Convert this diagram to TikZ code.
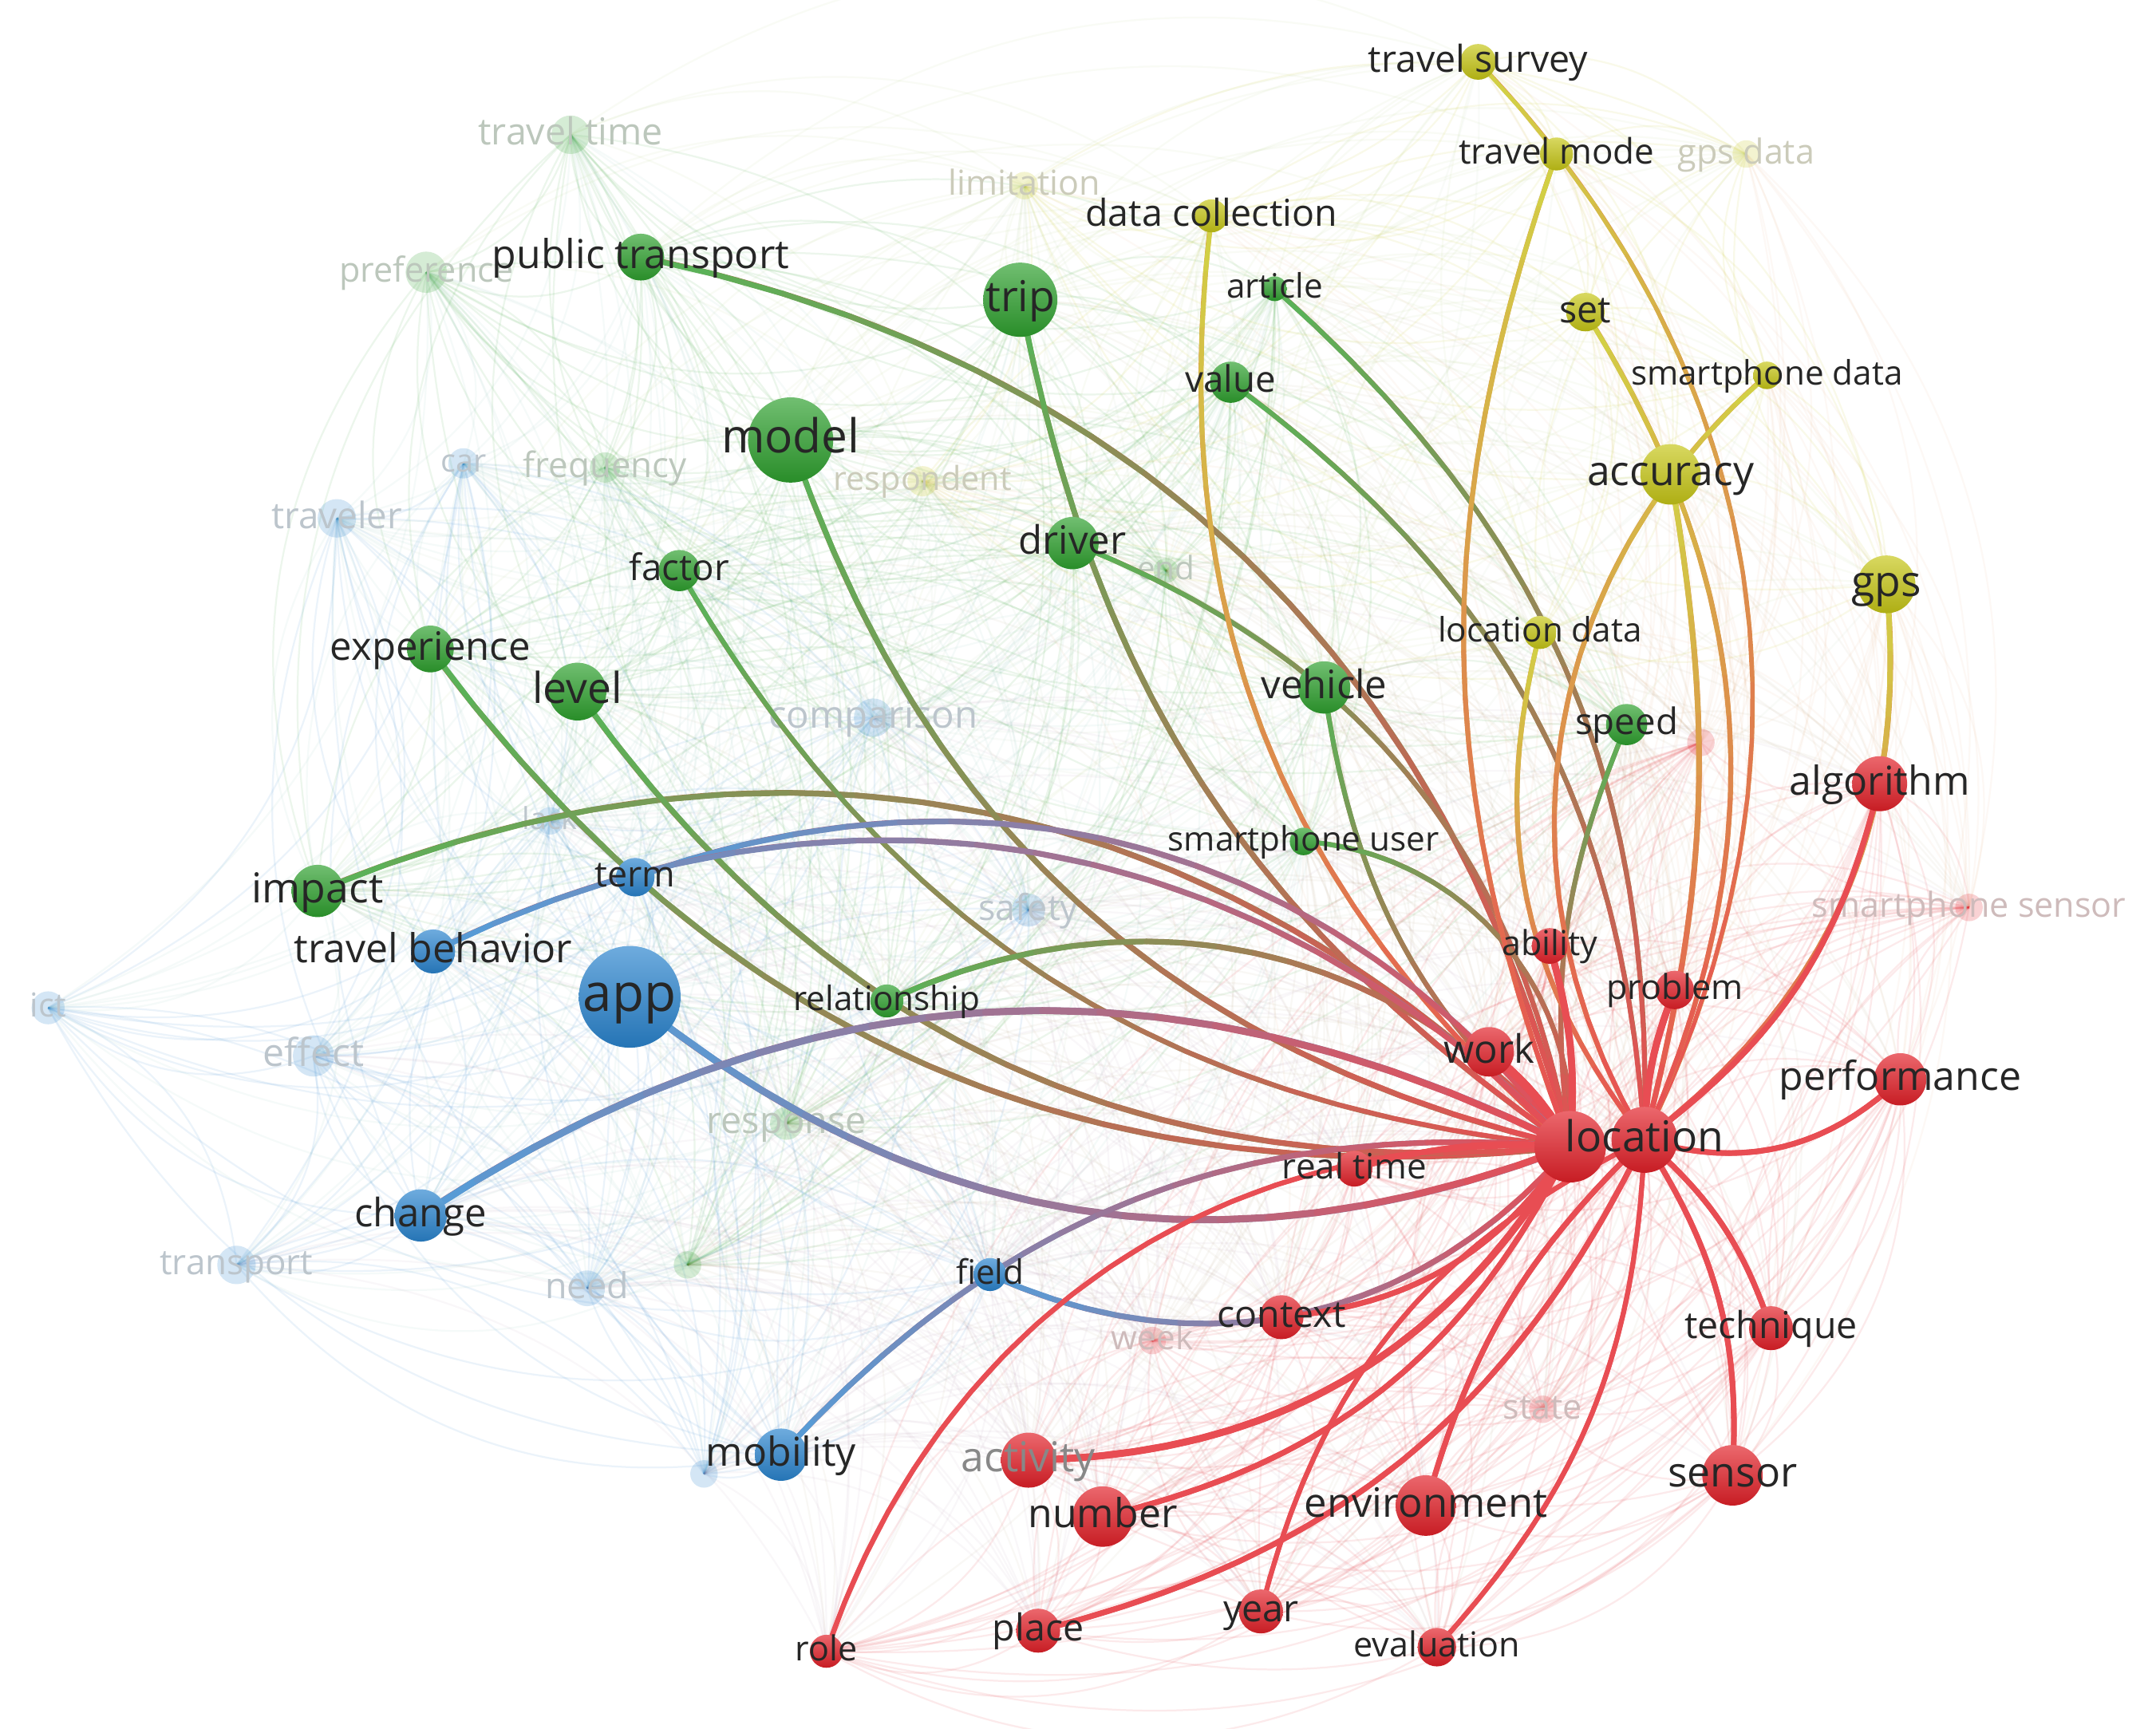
\documentclass[tikz,border=0pt]{standalone}
\usepackage{fontspec}
\setmainfont{Open Sans}
\definecolor{kred}{RGB}{226,32,40}
\definecolor{kgreen}{RGB}{46,160,46}
\definecolor{kblue}{RGB}{42,132,206}
\definecolor{kyellow}{RGB}{198,198,22}
\definecolor{labtxt}{RGB}{38,38,38}
\pgfdeclarelayer{bgl}
\pgfdeclarelayer{fadel}
\pgfdeclarelayer{hll}
\pgfdeclarelayer{labl}
\pgfsetlayers{bgl,fadel,hll,main,labl}
\tikzset{
  kw/.style 2 args={circle, inner sep=0pt, minimum size={2*#2pt}, top color=#1!68!white, bottom color=#1!88!black, draw=none},
  kwf/.style 2 args={circle, inner sep=0pt, minimum size={2*#2pt}, fill=#1, fill opacity=0.2, draw=none},
  lb/.style={text=labtxt, inner sep=0pt, anchor=base, yshift={-0.28*#1pt}, font=\fontsize{#1}{#1}\selectfont},
  lbf/.style 2 args={text=#1!35!black!28!white, inner sep=0pt, anchor=base, yshift={-0.28*#2pt}, font=\fontsize{#2}{#2}\selectfont},
}
% control points of a bent link, computed with plain numbers
\newcommand\kwctrl[3]{%
  \path (#1.center); \pgfgetlastxy{\tmpx}{\tmpy}%
  \pgfmathsetmacro\axn{\tmpx}\pgfmathsetmacro\ayn{\tmpy}%
  \path (#2.center); \pgfgetlastxy{\tmpx}{\tmpy}%
  \pgfmathsetmacro\bxn{\tmpx}\pgfmathsetmacro\byn{\tmpy}%
  \pgfmathsetmacro\dxn{\bxn-\axn}\pgfmathsetmacro\dyn{\byn-\ayn}%
  \pgfmathsetmacro\csn{0.3915*cos(#3)}\pgfmathsetmacro\snn{0.3915*sin(#3)}%
  \pgfmathsetmacro\cax{\axn+\csn*\dxn-\snn*\dyn}%
  \pgfmathsetmacro\cay{\ayn+\snn*\dxn+\csn*\dyn}%
  \pgfmathsetmacro\cbx{\bxn-\csn*\dxn-\snn*\dyn}%
  \pgfmathsetmacro\cby{\byn+\snn*\dxn-\csn*\dyn}%
}
% highlighted link with colour gradient (node colour -> red)
\newcommand\kwedge[5]{%
  \kwctrl{#1}{#2}{#3}%
  \draw[line width=#5, draw={kred!50!#4!80!white}] (#1.center) .. controls (\cax,\cay) and (\cbx,\cby) .. (#2.center);%
  \xdef\px{\axn}\xdef\py{\ayn}%
  \foreach \k in {1,...,20}{%
    \pgfmathsetmacro\tpar{\k/20}%
    \pgfmathsetmacro\upar{1-\tpar}%
    \pgfmathsetmacro\qx{\upar*\upar*\upar*\axn+3*\upar*\upar*\tpar*\cax+3*\upar*\tpar*\tpar*\cbx+\tpar*\tpar*\tpar*\bxn}%
    \pgfmathsetmacro\qy{\upar*\upar*\upar*\ayn+3*\upar*\upar*\tpar*\cay+3*\upar*\tpar*\tpar*\cby+\tpar*\tpar*\tpar*\byn}%
    \pgfmathtruncatemacro\hmix{100*(\k-0.5)/20}%
    \draw[line width=#5, line cap=round, draw={kred!\hmix!#4!80!white}] (\px,\py) -- (\qx,\qy);%
    \global\let\px\qx \global\let\py\qy%
  }%
}
\def\nodelist{pt/kgreen,trip/kgreen,article/kgreen,value/kgreen,model/kgreen,driver/kgreen,factor/kgreen,experience/kgreen,level/kgreen,vehicle/kgreen,speed/kgreen,spuser/kgreen,impact/kgreen,relationship/kgreen,ttime/kgreen,pref/kgreen,freq/kgreen,endn/kgreen,response/kgreen,u2/kgreen,%
tsurvey/kyellow,tmode/kyellow,dcoll/kyellow,set/kyellow,spdata/kyellow,accuracy/kyellow,gps/kyellow,locdata/kyellow,limitation/kyellow,respondent/kyellow,gpsdata/kyellow,%
term/kblue,tbehav/kblue,app/kblue,change/kblue,field/kblue,mobility/kblue,car/kblue,traveler/kblue,comparison/kblue,lack/kblue,safety/kblue,effect/kblue,ict/kblue,transport/kblue,need/kblue,u3/kblue,%
loc/kred,loc2/kred,ability/kred,problem/kred,work/kred,algorithm/kred,performance/kred,realtime/kred,context/kred,technique/kred,sensor/kred,activity/kred,number/kred,environment/kred,place/kred,year/kred,evaluation/kred,role/kred,spsensor/kred,week/kred,state/kred,u1/kred}
\begin{document}
\begin{tikzpicture}[x=1pt,y=1pt]
\useasboundingbox (0,0) rectangle (1568,-1257);
\begin{pgfonlayer}{bgl}
\fill[white] (0,0) rectangle (1568,-1257);
\end{pgfonlayer}
% ---------- faded nodes ----------
\begin{pgfonlayer}{fadel}
\node[kwf={kgreen}{14}] (ttime) at (415,-98) {};
\node[kwf={kgreen}{15}] (pref) at (310,-198) {};
\node[kwf={kgreen}{11}] (freq) at (440,-340) {};
\node[kwf={kgreen}{9}] (endn) at (848,-415) {};
\node[kwf={kgreen}{12}] (response) at (572,-817) {};
\node[kwf={kgreen}{10}] (u2) at (500,-920) {};
\node[kwf={kyellow}{10}] (limitation) at (745,-135) {};
\node[kwf={kyellow}{11}] (respondent) at (671,-350) {};
\node[kwf={kyellow}{10}] (gpsdata) at (1270,-112) {};
\node[kwf={kblue}{11}] (car) at (337,-337) {};
\node[kwf={kblue}{14}] (traveler) at (245,-377) {};
\node[kwf={kblue}{14}] (comparison) at (635,-522) {};
\node[kwf={kblue}{10}] (lack) at (400,-597) {};
\node[kwf={kblue}{12}] (safety) at (748,-662) {};
\node[kwf={kblue}{15}] (effect) at (228,-768) {};
\node[kwf={kblue}{12}] (ict) at (35,-733) {};
\node[kwf={kblue}{14}] (transport) at (172,-920) {};
\node[kwf={kblue}{13}] (need) at (427,-937) {};
\node[kwf={kblue}{10}] (u3) at (512,-1072) {};
\node[kwf={kred}{10}] (spsensor) at (1432,-660) {};
\node[kwf={kred}{10}] (week) at (838,-975) {};
\node[kwf={kred}{10}] (state) at (1122,-1025) {};
\node[kwf={kred}{10}] (u1) at (1237,-540) {};
\node[lbf={kgreen}{27}] (ttime-t) at (ttime) {travel time};
\node[lbf={kgreen}{25}] (pref-t) at (pref) {preference};
\node[lbf={kgreen}{25.5}] (freq-t) at (freq) {frequency};
\node[lbf={kgreen}{23.5}] (endn-t) at (endn) {end};
\node[lbf={kgreen}{27}] (response-t) at (response) {response};
\node[lbf={kyellow}{25}] (limitation-t) at (limitation) {limitation};
\node[lbf={kyellow}{24}] (respondent-t) at (respondent) {respondent};
\node[lbf={kyellow}{25}] (gpsdata-t) at (gpsdata) {gps data};
\node[lbf={kblue}{23}] (car-t) at (car) {car};
\node[lbf={kblue}{26.5}] (traveler-t) at (traveler) {traveler};
\node[lbf={kblue}{27.5}] (comparison-t) at (comparison) {comparison};
\node[lbf={kblue}{22}] (lack-t) at (lack) {lack};
\node[lbf={kblue}{26}] (safety-t) at (safety) {safety};
\node[lbf={kblue}{28}] (effect-t) at (effect) {effect};
\node[lbf={kblue}{24}] (ict-t) at (ict) {ict};
\node[lbf={kblue}{25.5}] (transport-t) at (transport) {transport};
\node[lbf={kblue}{26}] (need-t) at (need) {need};
\node[lbf={kred}{25}] (spsensor-t) at (spsensor) {smartphone sensor};
\node[lbf={kred}{24.5}] (week-t) at (week) {week};
\node[lbf={kred}{25}] (state-t) at (state) {state};
\end{pgfonlayer}
% ---------- active nodes ----------
\node[kw={kgreen}{17}] (pt) at (466,-187) {};
\node[kw={kgreen}{27}] (trip) at (742,-218) {};
\node[kw={kgreen}{9}] (article) at (927,-210) {};
\node[kw={kgreen}{15}] (value) at (895,-278) {};
\node[kw={kgreen}{31}] (model) at (575,-320) {};
\node[kw={kgreen}{19}] (driver) at (780,-395) {};
\node[kw={kgreen}{15}] (factor) at (494,-415) {};
\node[kw={kgreen}{17}] (experience) at (313,-472) {};
\node[kw={kgreen}{21}] (level) at (420,-503) {};
\node[kw={kgreen}{19}] (vehicle) at (963,-500) {};
\node[kw={kgreen}{15}] (speed) at (1183,-527) {};
\node[kw={kgreen}{10}] (spuser) at (948,-612) {};
\node[kw={kgreen}{19}] (impact) at (231,-648) {};
\node[kw={kgreen}{12}] (relationship) at (645,-728) {};
\node[kw={kyellow}{13}] (tsurvey) at (1075,-45) {};
\node[kw={kyellow}{12}] (tmode) at (1132,-112) {};
\node[kw={kyellow}{12}] (dcoll) at (881,-157) {};
\node[kw={kyellow}{14}] (set) at (1153,-227) {};
\node[kw={kyellow}{10}] (spdata) at (1285,-273) {};
\node[kw={kyellow}{22}] (accuracy) at (1215,-345) {};
\node[kw={kyellow}{21}] (gps) at (1372,-425) {};
\node[kw={kyellow}{12}] (locdata) at (1120,-460) {};
\node[kw={kblue}{14}] (term) at (462,-638) {};
\node[kw={kblue}{16}] (tbehav) at (315,-692) {};
\node[kw={kblue}{37}] (app) at (458,-725) {};
\node[kw={kblue}{19}] (change) at (306,-884) {};
\node[kw={kblue}{12}] (field) at (720,-927) {};
\node[kw={kblue}{19}] (mobility) at (568,-1058) {};
\node[kw={kred}{26}] (loc2) at (1142,-834) {};
\node[kw={kred}{24}] (loc) at (1196,-829) {};
\node[kw={kred}{13}] (ability) at (1127,-688) {};
\node[kw={kred}{14}] (problem) at (1218,-720) {};
\node[kw={kred}{18}] (work) at (1083,-765) {};
\node[kw={kred}{20}] (algorithm) at (1367,-570) {};
\node[kw={kred}{19}] (performance) at (1382,-785) {};
\node[kw={kred}{13}] (realtime) at (985,-850) {};
\node[kw={kred}{16}] (context) at (932,-958) {};
\node[kw={kred}{16}] (technique) at (1288,-966) {};
\node[kw={kred}{22}] (sensor) at (1260,-1073) {};
\node[kw={kred}{20}] (activity) at (748,-1062) {};
\node[kw={kred}{22}] (number) at (802,-1103) {};
\node[kw={kred}{22}] (environment) at (1037,-1095) {};
\node[kw={kred}{16}] (place) at (755,-1186) {};
\node[kw={kred}{16}] (year) at (917,-1172) {};
\node[kw={kred}{14}] (evaluation) at (1045,-1198) {};
\node[kw={kred}{12}] (role) at (601,-1201) {};
% ---------- labels ----------
\begin{pgfonlayer}{labl}
\node[lb=29] (pt-t) at (pt) {public transport};
\node[lb=31] (trip-t) at (trip) {trip};
\node[lb=24.5] (article-t) at (article) {article};
\node[lb=26.5] (value-t) at (value) {value};
\node[lb=34] (model-t) at (model) {model};
\node[lb=28.5] (driver-t) at (driver) {driver};
\node[lb=26.5] (factor-t) at (factor) {factor};
\node[lb=28.5] (experience-t) at (experience) {experience};
\node[lb=31] (level-t) at (level) {level};
\node[lb=28.5] (vehicle-t) at (vehicle) {vehicle};
\node[lb=26.5] (speed-t) at (speed) {speed};
\node[lb=24.5] (spuser-t) at (spuser) {smartphone user};
\node[lb=30] (impact-t) at (impact) {impact};
\node[lb=24.5] (relationship-t) at (relationship) {relationship};
\node[lb=27] (tsurvey-t) at (tsurvey) {travel survey};
\node[lb=25.5] (tmode-t) at (tmode) {travel mode};
\node[lb=27] (dcoll-t) at (dcoll) {data collection};
\node[lb=27] (set-t) at (set) {set};
\node[lb=24.5] (spdata-t) at (spdata) {smartphone data};
\node[lb=30] (accuracy-t) at (accuracy) {accuracy};
\node[lb=31] (gps-t) at (gps) {gps};
\node[lb=24.5] (locdata-t) at (locdata) {location data};
\node[lb=26] (term-t) at (term) {term};
\node[lb=29] (tbehav-t) at (tbehav) {travel behavior};
\node[lb=38] (app-t) at (app) {app};
\node[lb=28.5] (change-t) at (change) {change};
\node[lb=24.5] (field-t) at (field) {field};
\node[lb=29] (mobility-t) at (mobility) {mobility};
\node[lb=31] (loc-t) at (loc) {location};
\node[lb=25] (ability-t) at (ability) {ability};
\node[lb=25] (problem-t) at (problem) {problem};
\node[lb=28.5] (work-t) at (work) {work};
\node[lb=29] (algorithm-t) at (algorithm) {algorithm};
\node[lb=29] (performance-t) at (performance) {performance};
\node[lb=25.5] (realtime-t) at (realtime) {real time};
\node[lb=27] (context-t) at (context) {context};
\node[lb=27] (technique-t) at (technique) {technique};
\node[lb=30] (sensor-t) at (sensor) {sensor};
\node[lb=30, text=labtxt!55!white] (activity-t) at (activity) {activity};
\node[lb=29] (number-t) at (number) {number};
\node[lb=29.5] (environment-t) at (environment) {environment};
\node[lb=27] (place-t) at (place) {place};
\node[lb=27] (year-t) at (year) {year};
\node[lb=25] (evaluation-t) at (evaluation) {evaluation};
\node[lb=25] (role-t) at (role) {role};
\end{pgfonlayer}
% ---------- faint background links ----------
\begin{pgfonlayer}{bgl}
\foreach \a/\ca [count=\i] in \nodelist {
  \foreach \b/\cb [count=\j] in \nodelist {
    \ifnum\j>\i
      \kwctrl{\a}{\b}{30}%
      \ifx\ca\cb
        \draw[draw=\ca, opacity=0.09, line width=1.3] (\a.center) .. controls (\cax,\cay) and (\cbx,\cby) .. (\b.center);
      \else
        \pgfmathsetmacro\dlen{veclen(\dxn,\dyn)}%
        \ifdim\dlen pt<700pt
          \draw[draw=\ca!50!\cb, opacity=0.045, line width=1.3] (\a.center) .. controls (\cax,\cay) and (\cbx,\cby) .. (\b.center);
        \fi
      \fi
    \fi
  }
}
\end{pgfonlayer}
% ---------- highlighted links of "location" ----------
\begin{pgfonlayer}{hll}
\kwedge{pt}{loc2}{32}{kgreen}{4}
\kwedge{impact}{loc2}{34}{kgreen}{4}
\kwedge{experience}{loc2}{-30}{kgreen}{4}
\kwedge{level}{loc2}{-30}{kgreen}{4}
\kwedge{factor}{loc2}{-27}{kgreen}{3.5}
\kwedge{model}{loc2}{-29}{kgreen}{4}
\kwedge{trip}{loc2}{-22}{kgreen}{4}
\kwedge{driver}{loc2}{29}{kgreen}{3.5}
\kwedge{vehicle}{loc2}{-20}{kgreen}{3.5}
\kwedge{spuser}{loc2}{45}{kgreen}{3.5}
\kwedge{value}{loc}{25}{kgreen}{3.5}
\kwedge{article}{loc}{25}{kgreen}{3.5}
\kwedge{relationship}{loc2}{37}{kgreen}{4}
\kwedge{speed}{loc2}{-15}{kgreen}{3.5}
\kwedge{dcoll}{loc2}{-28}{kyellow}{3.5}
\kwedge{tsurvey}{loc}{35}{kyellow}{3}
\kwedge{tmode}{loc2}{-20}{kyellow}{3.5}
\kwedge{set}{loc}{28}{kyellow}{3.5}
\kwedge{spdata}{loc}{-40}{kyellow}{3.5}
\kwedge{accuracy}{loc}{12}{kyellow}{4}
\kwedge{gps}{loc}{29}{kyellow}{4}
\kwedge{locdata}{loc}{-26}{kyellow}{3.5}
\kwedge{term}{loc2}{36}{kblue}{4}
\kwedge{tbehav}{loc2}{36}{kblue}{4}
\kwedge{app}{loc2}{-30}{kblue}{5}
\kwedge{change}{loc2}{30}{kblue}{5}
\kwedge{field}{loc2}{-37}{kblue}{4}
\kwedge{mobility}{loc2}{26}{kblue}{4}
\kwedge{algorithm}{loc}{20}{kred}{4}
\kwedge{ability}{loc2}{10}{kred}{5}
\kwedge{problem}{loc}{-10}{kred}{5}
\kwedge{work}{loc2}{10}{kred}{6}
\kwedge{performance}{loc}{30}{kred}{4}
\kwedge{realtime}{loc2}{10}{kred}{4}
\kwedge{context}{loc2}{-25}{kred}{4}
\kwedge{role}{loc2}{37}{kred}{3.5}
\kwedge{activity}{loc2}{-29}{kred}{5}
\kwedge{number}{loc2}{-25}{kred}{4}
\kwedge{place}{loc}{-25}{kred}{4}
\kwedge{year}{loc}{25}{kred}{3.5}
\kwedge{environment}{loc}{15}{kred}{4}
\kwedge{evaluation}{loc}{-20}{kred}{3.5}
\kwedge{sensor}{loc}{-18}{kred}{4}
\kwedge{technique}{loc}{-15}{kred}{4}
\end{pgfonlayer}
\end{tikzpicture}
\end{document}
